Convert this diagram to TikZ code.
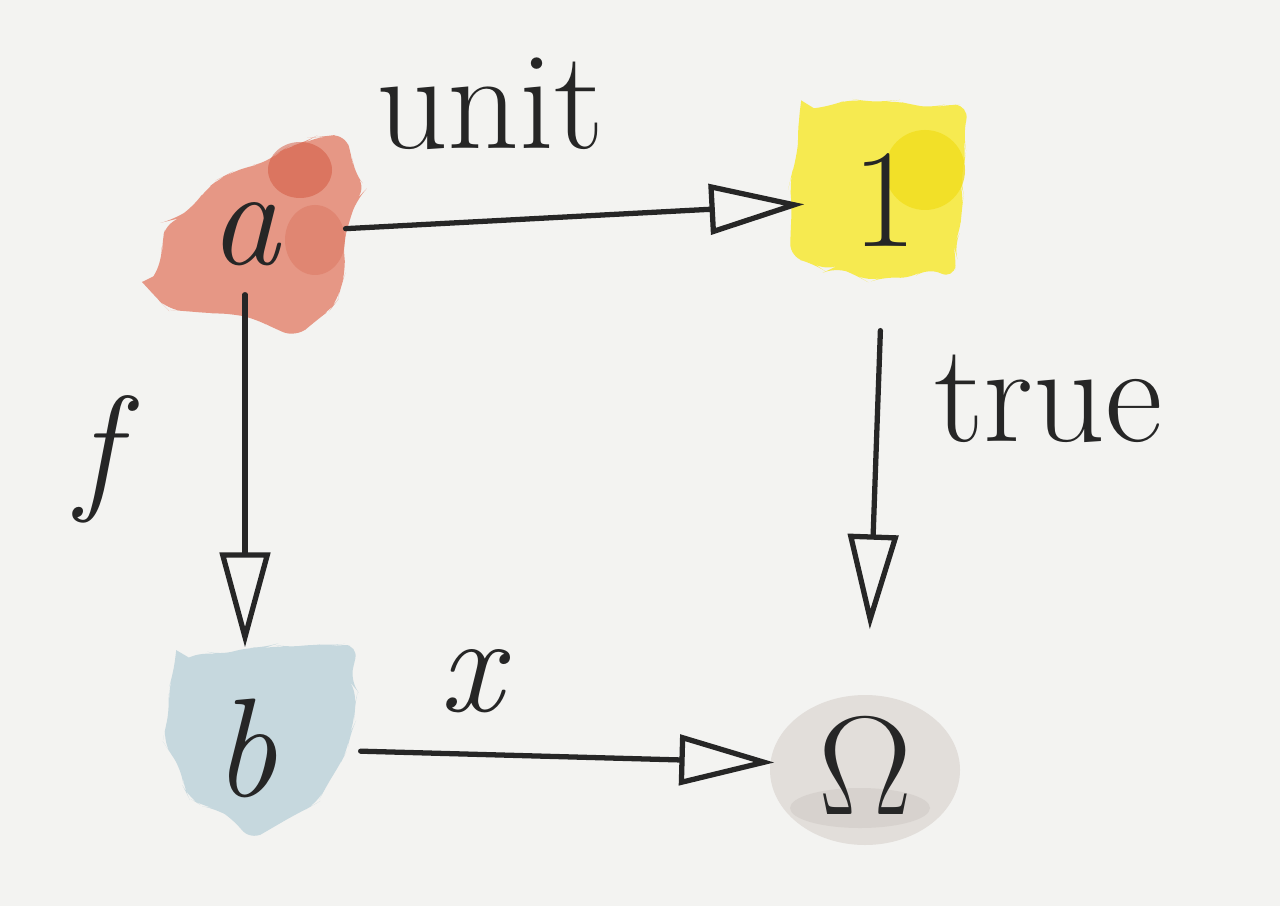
\documentclass[tikz,border=0pt]{standalone}
\usetikzlibrary{arrows.meta,decorations.pathmorphing,positioning}

\definecolor{paper}{RGB}{243,243,241}
\definecolor{ink}{RGB}{38,38,38}
\definecolor{wash red}{RGB}{228,135,115}
\definecolor{wash darkred}{RGB}{210,85,60}
\definecolor{wash yellow}{RGB}{246,234,80}
\definecolor{wash gold}{RGB}{242,222,30}
\definecolor{wash blue}{RGB}{198,216,222}
\definecolor{wash grey}{RGB}{226,222,218}
\definecolor{wash darkgrey}{RGB}{196,190,185}

\tikzset{obj/.style={circle, minimum size=2cm, inner sep=0pt, text=ink,
                     font=\fontsize{40}{44}\selectfont},
    lbl/.style={text=ink, inner sep=1pt, font=\fontsize{40}{44}\selectfont},
    map/.style={draw=ink, line width=1.5pt, line cap=round,
                -{Triangle[open, length=9.5mm, width=5mm, line width=1.5pt]}},
    wash/.style={decorate, decoration={random steps, segment length=5pt, amplitude=1.5pt},
                 rounded corners=4pt}}

\begin{document}
\begin{tikzpicture}
  \useasboundingbox[fill=paper] (0,0) rectangle (12.8,9.06);

  % watercolour washes behind the objects
  \fill[wash, wash red, opacity=.85] (1.50,6.16) -- (1.65,6.76) -- (2.15,7.26) -- (2.65,7.46)
      -- (3.00,7.66) -- (3.35,7.71) -- (3.60,7.21) -- (3.45,6.71) -- (3.40,6.06)
      -- (3.05,5.76) -- (2.40,5.91) -- (1.70,5.96) -- cycle;
  \fill[wash darkred, opacity=.5] (3.00,7.36) ellipse (0.32 and 0.28);
  \fill[wash darkred, opacity=.25] (3.15,6.66) ellipse (0.3 and 0.35);
  \fill[wash, wash yellow] (8.00,7.96) -- (8.80,8.06) -- (9.60,8.01) -- (9.65,7.26)
      -- (9.55,6.36) -- (8.70,6.28) -- (8.00,6.46) -- (7.90,7.16) -- cycle;
  \fill[wash gold, opacity=.8] (9.25,7.36) circle (0.4);
  \fill[wash, wash blue] (1.75,2.46) -- (2.60,2.61) -- (3.50,2.61) -- (3.55,1.86)
      -- (3.20,1.06) -- (2.60,0.71) -- (1.90,1.06) -- (1.65,1.66) -- cycle;
  \fill[wash grey] (8.65,1.36) ellipse (0.95 and 0.75);
  \fill[wash darkgrey, opacity=.35] (8.60,0.98) ellipse (0.7 and 0.2);

  \node[obj] (a) at (2.45,6.72) {\itshape a};
  \node[obj] (one) at (8.85,7.06) {1};
  \node[obj] (b) at (2.45,1.58) {\itshape b};
  \node[obj] (om) at (8.65,1.41) {Ω};

  \draw[map, shorten >=-2mm] (a) -- node[lbl, pos=0.33, above=6.5mm] {unit} (one);
  \draw[map, shorten <=-4mm] (a) -- node[lbl, pos=0.4, left=12mm] {\itshape f} (b);
  \draw[map, shorten <=3mm, shorten >=3.5mm] (one) -- node[lbl, pos=0.27, right=5mm] {true} (om);
  \draw[map, shorten <=1.5mm, shorten >=-1mm] (b) -- node[lbl, pos=0.3, above=3.5mm] {\itshape x} (om);
\end{tikzpicture}
\end{document}
